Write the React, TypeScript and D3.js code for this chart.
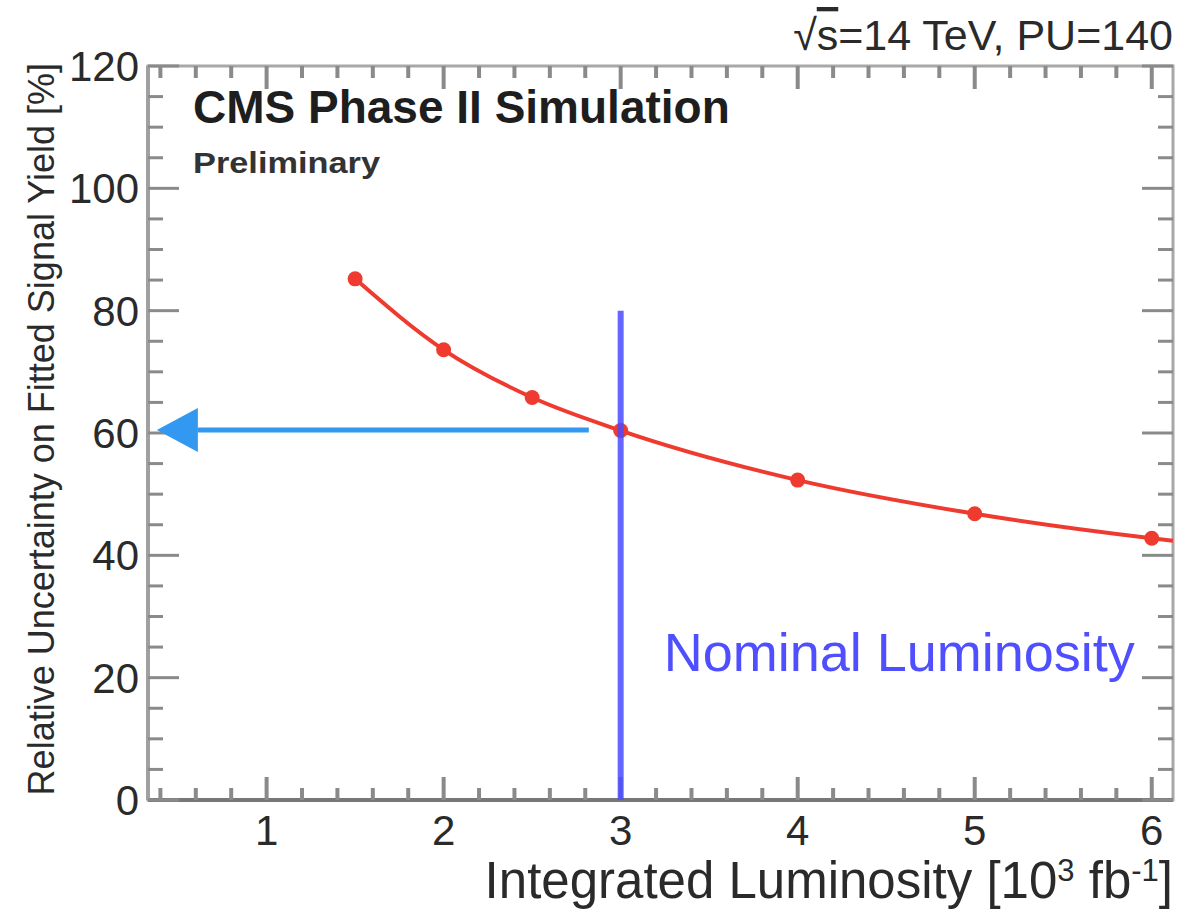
import React from 'react';
import * as d3 from 'd3';

// measured points
const lumi = [1.5, 2, 2.5, 3, 4, 5, 6];
const uncertainty = [85.2, 73.6, 65.8, 60.4, 52.3, 46.8, 42.8];
// the drawn curve runs on to the frame edge
const curveEndLumi = 6.12;
const curveEndUnc = 42.4;

const xMajor = [1, 2, 3, 4, 5, 6];
const yMajor = [0, 20, 40, 60, 80, 100, 120];

const nominalLumi = 3;
const nominalTop = 80;
const arrowStart = 2.82;
const arrowTip = 0.38;
const arrowLevel = 60.5;

const W = 1201;
const H = 911;

export default function App() {
  let margin = { top: 66, right: 28, bottom: 111, left: 148 };

  let x = d3.scaleLinear().domain([0.33, 6.12]).range([margin.left, W - margin.right]);
  let y = d3.scaleLinear().domain([0, 120]).range([H - margin.bottom, margin.top]);

  let x0 = margin.left, x1 = W - margin.right;
  let y0 = H - margin.bottom, y1 = margin.top;

  let xMinor = d3.range(0.4, 6.1, 0.2).filter(v => Math.abs(v - Math.round(v)) > 0.01);
  let yMinor = d3.range(0, 121, 5).filter(v => v % 20 !== 0);

  let curvePts: [number, number][] = lumi.map((l, i) => [l, uncertainty[i]]);
  curvePts.push([curveEndLumi, curveEndUnc]);

  let line = d3.line<[number, number]>()
    .x(d => x(d[0]))
    .y(d => y(d[1]))
    .curve(d3.curveMonotoneX);

  let axisColor = '#8a8a8a';
  let textColor = '#2a2a2a';
  let font = '"Liberation Sans", Arial, Helvetica, sans-serif';

  let headLen = 41;
  let headHalf = 22;
  let ax = x(arrowTip), ay = y(arrowLevel);

  return (
    <svg width={W} height={H} style={{ position: 'absolute', left: 0, top: 0, background: '#fff' }}
      fontFamily={font}>
      {/* frame */}
      <rect x={x0} y={y1} width={x1 - x0} height={y0 - y1} fill="none" stroke="#a8a8a8" strokeWidth={3} />
      <line x1={x0} x2={x1} y1={y0} y2={y0} stroke="#777" strokeWidth={4} />
      <line x1={x0} x2={x0} y1={y0} y2={y1} stroke="#a0a0a0" strokeWidth={4} />

      {/* x ticks bottom & top */}
      <g stroke={axisColor} strokeWidth={4}>
        {xMajor.map(v => (
          <g key={'xm' + v}>
            <line x1={x(v)} x2={x(v)} y1={y0} y2={y0 - 23} />
            <line x1={x(v)} x2={x(v)} y1={y1} y2={y1 + 23} />
          </g>
        ))}
        {xMinor.map(v => (
          <g key={'xn' + v.toFixed(1)}>
            <line x1={x(v)} x2={x(v)} y1={y0} y2={y0 - 12} />
            <line x1={x(v)} x2={x(v)} y1={y1} y2={y1 + 12} />
          </g>
        ))}
      </g>
      {/* y ticks left & right */}
      <g stroke={axisColor} strokeWidth={3}>
        {yMajor.map(v => (
          <g key={'ym' + v}>
            <line x1={x0} x2={x0 + 31} y1={y(v)} y2={y(v)} />
            <line x1={x1} x2={x1 - 31} y1={y(v)} y2={y(v)} />
          </g>
        ))}
        {yMinor.map(v => (
          <g key={'yn' + v}>
            <line x1={x0} x2={x0 + 15} y1={y(v)} y2={y(v)} />
            <line x1={x1} x2={x1 - 15} y1={y(v)} y2={y(v)} />
          </g>
        ))}
      </g>

      {/* tick labels */}
      <g fill={textColor} fontSize={42}>
        {xMajor.map(v => (
          <text key={'xl' + v} x={x(v)} y={y0 + 45} textAnchor="middle">{v}</text>
        ))}
        {yMajor.map(v => (
          <text key={'yl' + v} x={x0 - 9} y={y(v) + 15} textAnchor="end">{v}</text>
        ))}
      </g>

      {/* axis titles */}
      <text x={x1} y={H - 13} textAnchor="end" fontSize={51} fill={textColor}>
        Integrated Luminosity [10<tspan dy={-17} fontSize={31}>3</tspan>
        <tspan dy={17}> fb</tspan><tspan dy={-17} fontSize={31}>-1</tspan><tspan dy={17}>]</tspan>
      </text>
      <text transform={`translate(54, ${y1 - 3}) rotate(-90)`} textAnchor="end" fontSize={36} fill={textColor}>
        Relative Uncertainty on Fitted Signal Yield [%]
      </text>

      {/* header */}
      <text x={x1} y={50} textAnchor="end" fontSize={43} fill={textColor}>
        √<tspan textDecoration="overline">s</tspan>=14 TeV, PU=140
      </text>
      <text x={x0 + 45} y={123} fontSize={46} fontWeight="bold" fill="#1e1e1e">CMS Phase II Simulation</text>
      <text x={x0 + 45} y={173} fontSize={29} fontWeight="bold" fill="#333"
        textLength={187} lengthAdjust="spacingAndGlyphs">Preliminary</text>

      {/* result curve */}
      <path d={line(curvePts) ?? ''} fill="none" stroke="#ef3b2f" strokeWidth={4} />
      {lumi.map((l, i) => (
        <circle key={'p' + l} cx={x(l)} cy={y(uncertainty[i])} r={7.5} fill="#ef3b2f" />
      ))}

      {/* arrow */}
      <line x1={x(arrowStart)} x2={ax + headLen} y1={ay} y2={ay} stroke="#3399f0" strokeWidth={5} />
      <path d={`M${ax},${ay} L${ax + headLen},${ay - headHalf} L${ax + headLen},${ay + headHalf} Z`} fill="#3399f0" />

      {/* nominal luminosity */}
      <line x1={x(nominalLumi)} x2={x(nominalLumi)} y1={y0} y2={y(nominalTop)}
        stroke="#4a4aff" strokeOpacity={0.85} strokeWidth={6} />
      <text x={x(nominalLumi) + 43} y={671} fontSize={54} fill="#4f4fff">Nominal Luminosity</text>
    </svg>
  );
}
